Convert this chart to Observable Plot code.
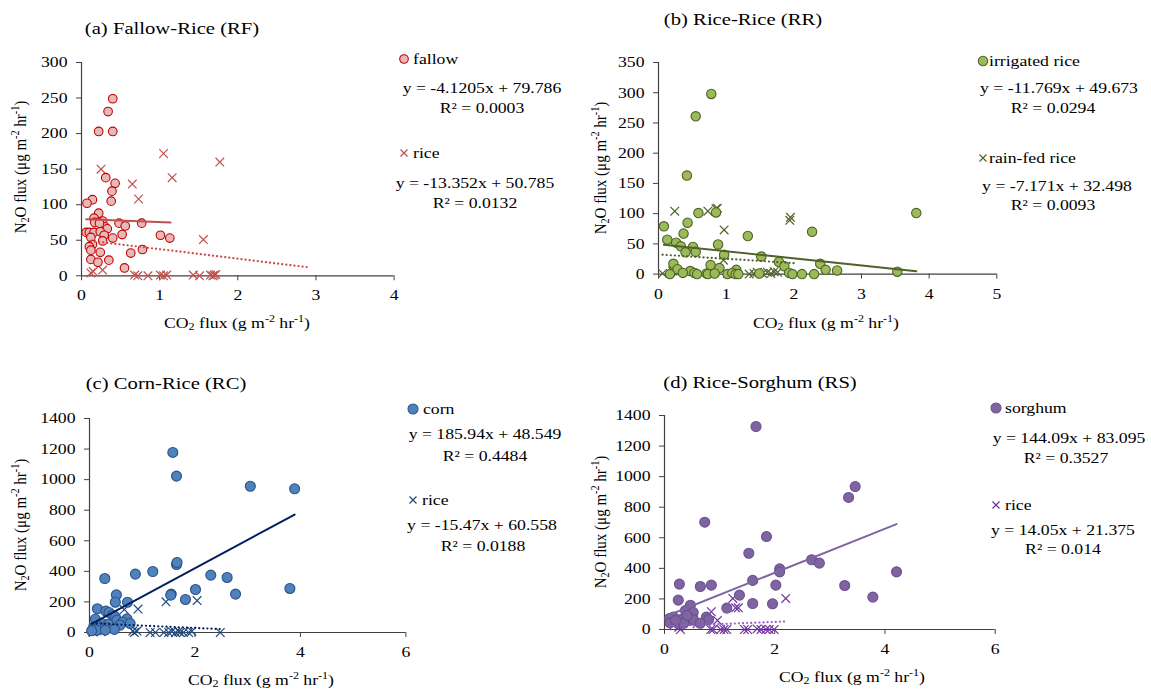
<!DOCTYPE html>
<html><head><meta charset="utf-8">
<script src="https://cdn.jsdelivr.net/npm/d3@7"></script>
<script src="https://cdn.jsdelivr.net/npm/@observablehq/plot@0.6"></script>
<style>
body{margin:0;background:#fff;}
#root{position:relative;width:1151px;height:691px;overflow:hidden;font-family:"Liberation Serif","Times New Roman",serif;color:#000;}
.t{position:absolute;white-space:nowrap;line-height:1;}
.t sub,.t sup{font-size:0.68em;line-height:0;}
.t sub{vertical-align:-0.2em;}
.m{position:absolute;overflow:visible;}
</style></head><body><div id="root"></div>
<script>
// ---------- data (x = CO2 flux, y = N2O flux) ----------
// (a) Fallow-Rice
const rfFallow = [[0.40,249],[0.34,231],[0.22,203],[0.40,203],[0.31,138],[0.43,130],[0.39,119],[0.38,105],[0.14,107],[0.07,102],[0.22,88],[0.16,81],[0.27,77],[0.17,75],[0.48,74],[0.56,70],[0.77,74],[0.30,69],[0.33,66],[0.06,61],[0.10,61],[0.16,61],[0.24,62],[0.12,54],[0.29,57],[0.52,58],[0.40,53],[0.27,49],[1.01,57],[1.13,53],[0.14,44],[0.10,41],[0.12,36],[0.24,33],[0.63,32],[0.78,37],[0.12,23],[0.21,19],[0.35,22],[0.55,11],[0.23,74]];
const rfRice = [[0.25,150],[1.05,172],[1.77,160],[1.16,138],[0.65,129],[0.73,108],[1.56,51],[0.15,6],[0.27,8],[0.12,4],[0.68,1],[0.72,0],[0.85,0],[1.01,1],[1.05,0],[1.09,1],[1.43,1],[1.51,0],[1.65,1],[1.68,0],[1.70,1],[1.72,2]];
// (b) Rice-Rice
const rrIrrigated = [[0.78,298],[0.55,261],[0.42,163],[0.59,101],[0.85,102],[3.81,101],[0.43,85],[0.08,79],[0.37,67],[1.32,63],[2.27,70],[0.13,57],[0.26,52],[0.88,49],[0.33,46],[0.51,45],[0.40,36],[0.55,37],[0.97,32],[1.52,29],[1.78,20],[0.22,17],[2.39,17],[0.77,15],[1.86,13],[0.90,10],[0.28,8],[1.15,7],[2.47,7],[2.64,6],[0.47,5],[3.53,4],[0.17,0],[0.36,2],[0.53,2],[0.57,0],[0.71,1],[0.73,0],[0.83,1],[1.02,0],[1.09,2],[1.14,0],[1.18,0],[1.93,2],[1.98,0],[2.12,0],[2.30,0],[1.49,1]];
const rrRainfed = [[0.24,104],[0.73,104],[0.87,109],[0.85,108],[0.97,73],[1.95,94],[1.94,89],[0.96,23],[0.06,1],[0.21,5],[0.24,9],[0.29,4],[0.82,3],[1.02,1],[1.34,0],[1.41,1],[1.46,3],[1.54,1],[1.61,3],[1.66,1],[1.71,4],[1.76,3]];
// (c) Corn-Rice
const rcCorn = [[1.58,1178],[1.65,1023],[3.05,957],[3.89,940],[3.80,288],[0.87,382],[1.20,399],[0.29,353],[1.65,445],[1.66,458],[2.30,375],[2.61,360],[2.77,251],[2.01,281],[1.82,216],[1.55,251],[1.54,244],[0.51,246],[0.49,198],[0.72,198],[0.15,155],[0.31,140],[0.37,131],[0.44,113],[0.49,102],[0.11,87],[0.52,81],[0.71,89],[0.63,68],[0.77,59],[0.23,59],[0.36,55],[0.08,37],[0.19,37],[0.58,48],[0.33,31],[0.08,20],[0.14,15],[0.04,11],[0.47,20],[0.30,15]];
const rcRice = [[0.66,150],[0.92,153],[1.45,201],[2.04,209],[2.48,0],[0.06,4],[0.14,11],[0.22,4],[0.82,9],[0.85,0],[0.90,9],[1.15,0],[1.25,0],[1.41,0],[1.50,0],[1.56,7],[1.63,0],[1.69,7],[1.72,0],[1.78,0],[1.88,0],[1.94,7]];
// (d) Rice-Sorghum
const rsSorghum = [[1.66,1328],[3.46,935],[3.34,864],[0.73,702],[1.85,608],[1.53,499],[2.67,456],[2.81,434],[2.09,397],[2.09,377],[4.21,377],[1.60,321],[0.27,297],[0.85,290],[0.65,281],[2.02,290],[3.27,288],[1.36,225],[3.78,212],[0.25,192],[1.60,170],[1.96,168],[1.13,140],[0.47,159],[0.38,124],[0.52,111],[0.16,81],[0.09,72],[0.29,65],[0.45,59],[0.53,63],[0.76,81],[0.80,65],[0.65,41],[0.10,44],[0.23,48],[0.35,41],[0.20,59],[0.41,92]];
const rsRice = [[2.20,203],[1.24,203],[1.29,142],[1.34,142],[0.85,116],[0.96,59],[0.29,0],[0.26,15],[0.84,0],[0.88,0],[1.02,0],[1.08,0],[1.13,0],[1.45,0],[1.51,0],[1.68,4],[1.75,0],[1.84,0],[1.90,0],[1.99,0],[0.59,37],[0.16,26]];

// trendline equations shown in the legends, with the x span drawn
const fitRfFallow = {slope:-4.1205, intercept:79.786, from:0.06, to:1.14};
const fitRfRice = {slope:-13.352, intercept:50.785, from:0.12, to:2.89};
const fitRrIrrigated = {slope:-11.769, intercept:49.673, from:0.08, to:3.81};
const fitRrRainfed = {slope:-7.171, intercept:32.498, from:0.06, to:2.02};
const fitRcCorn = {slope:185.94, intercept:48.549, from:0.04, to:3.89};
const fitRcRice = {slope:-15.47, intercept:60.558, from:0.06, to:2.48};
const fitRsSorghum = {slope:144.09, intercept:83.095, from:0.07, to:4.21};
const fitRsRice = {slope:14.05, intercept:21.375, from:0.16, to:2.20};

// tick values
const ticksXa = [0,1,2,3,4], ticksYa = [0,50,100,150,200,250,300];
const ticksXb = [0,1,2,3,4,5], ticksYb = [0,50,100,150,200,250,300,350];
const ticksXcd = [0,2,4,6], ticksYcd = [0,200,400,600,800,1000,1200,1400];

// legend texts
const titles = ["(a) Fallow-Rice (RF)","(b) Rice-Rice (RR)","(c) Corn-Rice (RC)","(d) Rice-Sorghum (RS)"];
const seriesNames = ["fallow","rice","irrigated rice","rain-fed rice","corn","rice","sorghum","rice"];
const eqTexts = ["y = -4.1205x + 79.786","y = -13.352x + 50.785","y = -11.769x + 49.673","y = -7.171x + 32.498","y = 185.94x + 48.549","y = -15.47x + 60.558","y = 144.09x + 83.095","y = 14.05x + 21.375"];
const r2Texts = ["R² = 0.0003","R² = 0.0132","R² = 0.0294","R² = 0.0093","R² = 0.4484","R² = 0.0188","R² = 0.3527","R² = 0.014"];

// ---------- drawing ----------
const root = document.getElementById("root");
const FONT = '"Liberation Serif","Times New Roman",serif';
const SX = 1.18; // horizontal stretch of the reference's type
const AXIS = "#404040";

function fitLine(f){ return [{x:f.from, y:f.slope*f.from+f.intercept},{x:f.to, y:f.slope*f.to+f.intercept}]; }

function panel(p){
  const ml=70, mr=20, mt=20, mb=40;
  const w = p.box[1]-p.box[0]+ml+mr, h = p.box[3]-p.box[2]+mt+mb;
  const chart = Plot.plot({
    width:w, height:h, marginLeft:ml, marginRight:mr, marginTop:mt, marginBottom:mb,
    style:{fontFamily:FONT, fontSize:"15px", color:"#000", background:"transparent", overflow:"visible"},
    x:{domain:p.xDomain}, y:{domain:p.yDomain},
    marks:[
      Plot.axisX({ticks:p.xTicks, tickSize:5, tickPadding:9, tickFormat:d=>String(d), label:null, stroke:AXIS}),
      Plot.axisY({ticks:p.yTicks, tickSize:5, tickPadding:9, tickFormat:d=>String(d), label:null, stroke:AXIS}),
      Plot.ruleY([0],{stroke:AXIS, strokeWidth:1.2}),
      Plot.ruleX([0],{stroke:AXIS, strokeWidth:1.2}),
      Plot.dot(p.crosses,{x:d=>d[0], y:d=>d[1], symbol:"times", r:4, stroke:p.crossColor, strokeWidth:1.2}),
      Plot.dot(p.circles,{x:d=>d[0], y:d=>d[1], r:p.r, fill:p.fill, stroke:p.stroke, strokeWidth:1.1}),
      Plot.line(fitLine(p.fitDot),{x:"x", y:"y", stroke:p.dotColor, strokeWidth:2.2, strokeDasharray:"0.1 4", strokeLinecap:"round"}),
      Plot.line(fitLine(p.fitSolid),{x:"x", y:"y", stroke:p.solidColor, strokeWidth:2})
    ]
  });
  for (const t of chart.querySelectorAll("text")) {
    const tr = t.getAttribute("transform");
    if (tr) t.setAttribute("transform", tr + ` scale(${SX},1)`);
    else {
      const x = +(t.getAttribute("x")||0), y = +(t.getAttribute("y")||0);
      t.removeAttribute("x"); t.removeAttribute("y");
      t.setAttribute("transform", `translate(${x},${y}) scale(${SX},1)`);
    }
  }
  chart.style.position = "absolute";
  chart.style.left = (p.box[0]-ml)+"px";
  chart.style.top = (p.box[2]-mt)+"px";
  root.appendChild(chart);
}

function txt(html, x, y, o={}){
  const d = document.createElement("div");
  d.className = "t";
  d.innerHTML = html;
  d.style.fontSize = (o.size||15)+"px";
  d.style.left = x+"px"; d.style.top = y+"px";
  if (o.rotate) d.style.transform = `translate(-50%,-50%) rotate(-90deg) scale(1,${SX})`;
  else if (o.anchor === "start") { d.style.transformOrigin = "0 50%"; d.style.transform = `translate(0,-50%) scale(${SX},1)`; }
  else d.style.transform = `translate(-50%,-50%) scale(${SX},1)`;
  root.appendChild(d);
}

function marker(kind, x, y, fill, stroke, r){
  const s = d3.create("svg").attr("class","m").attr("width",12).attr("height",12)
    .style("left",(x-6)+"px").style("top",(y-6)+"px");
  if (kind === "circle") s.append("circle").attr("cx",6).attr("cy",6).attr("r",r).attr("fill",fill).attr("stroke",stroke).attr("stroke-width",1.1);
  else s.append("path").attr("d","M2.5,2.5L9.5,9.5M9.5,2.5L2.5,9.5").attr("stroke",stroke).attr("stroke-width",1.2);
  root.appendChild(s.node());
}

const panels = [
  {box:[80.7,393.3,61.7,275], xDomain:[0,4], yDomain:[0,300], xTicks:ticksXa, yTicks:ticksYa,
   circles:rfFallow, crosses:rfRice, r:4.3, fill:"#E6B9B8", stroke:"#C00000", crossColor:"#C0504D",
   fitSolid:fitRfFallow, fitDot:fitRfRice, solidColor:"#C0504D", dotColor:"#D04A45",
   title:[172,29], xlab:[237,323], ylab:[21,167],
   leg:{m1:[404,59.3], t1:413, m2:[404,152.7], t2:413, e1:[481.7,88.3], r1:[482,108], e2:[475,183], r2:[475,203]}},
  {box:[657.7,996,61.7,273.3], xDomain:[0,5], yDomain:[0,350], xTicks:ticksXb, yTicks:ticksYb,
   circles:rrIrrigated, crosses:rrRainfed, r:4.7, fill:"#9BBB59", stroke:"#4F6228", crossColor:"#4F6228",
   fitSolid:fitRrIrrigated, fitDot:fitRrRainfed, solidColor:"#4F6228", dotColor:"#4F6228",
   title:[743,20], xlab:[826,323], ylab:[601,168],
   leg:{m1:[982.7,60.7], t1:989, m2:[982.7,158.3], t2:989, e1:[1059,88.3], r1:[1052.7,108], e2:[1057,186], r2:[1052.5,205]}},
  {box:[89.3,405.7,418.3,632.3], xDomain:[0,6], yDomain:[0,1400], xTicks:ticksXcd, yTicks:ticksYcd,
   circles:rcCorn, crosses:rcRice, r:5, fill:"#4F81BD", stroke:"#2C5488", crossColor:"#1F497D",
   fitSolid:fitRcCorn, fitDot:fitRcRice, solidColor:"#002060", dotColor:"#002060",
   title:[166,384], xlab:[261,680], ylab:[21,525],
   leg:{m1:[413.3,409], t1:422.7, m2:[412.7,500], t2:422, e1:[485,434.3], r1:[484.5,456], e2:[482,525], r2:[482.5,546]}},
  {box:[664.3,995,415,629], xDomain:[0,6], yDomain:[0,1400], xTicks:ticksXcd, yTicks:ticksYcd,
   circles:rsSorghum, crosses:rsRice, r:5, fill:"#8064A2", stroke:"#6A5190", crossColor:"#7030A0",
   fitSolid:fitRsSorghum, fitDot:fitRsRice, solidColor:"#8064A2", dotColor:"#9560C8",
   title:[760,383], xlab:[852,677], ylab:[601,522],
   leg:{m1:[996,408], t1:1005, m2:[996,505], t2:1005, e1:[1069,438], r1:[1066,458], e2:[1063,530], r2:[1063,549]}}
];

const yLab = "N<sub>2</sub>O flux (μg m<sup>-2</sup> hr<sup>-1</sup>)";
const xLab = "CO<sub>2</sub> flux (g m<sup>-2</sup> hr<sup>-1</sup>)";

panels.forEach((p,i)=>{
  panel(p);
  txt(titles[i], p.title[0], p.title[1], {size:17.5});
  txt(xLab, p.xlab[0], p.xlab[1]);
  txt(yLab, p.ylab[0], p.ylab[1], {rotate:true});
  const L = p.leg;
  marker("circle", L.m1[0], L.m1[1], p.fill, p.stroke, p.r);
  txt(seriesNames[2*i], L.t1, L.m1[1], {anchor:"start"});
  marker("cross", L.m2[0], L.m2[1], null, p.crossColor);
  txt(seriesNames[2*i+1], L.t2, L.m2[1], {anchor:"start"});
  txt(eqTexts[2*i], L.e1[0], L.e1[1]);
  txt(r2Texts[2*i], L.r1[0], L.r1[1]);
  txt(eqTexts[2*i+1], L.e2[0], L.e2[1]);
  txt(r2Texts[2*i+1], L.r2[0], L.r2[1]);
});
</script></body></html>
